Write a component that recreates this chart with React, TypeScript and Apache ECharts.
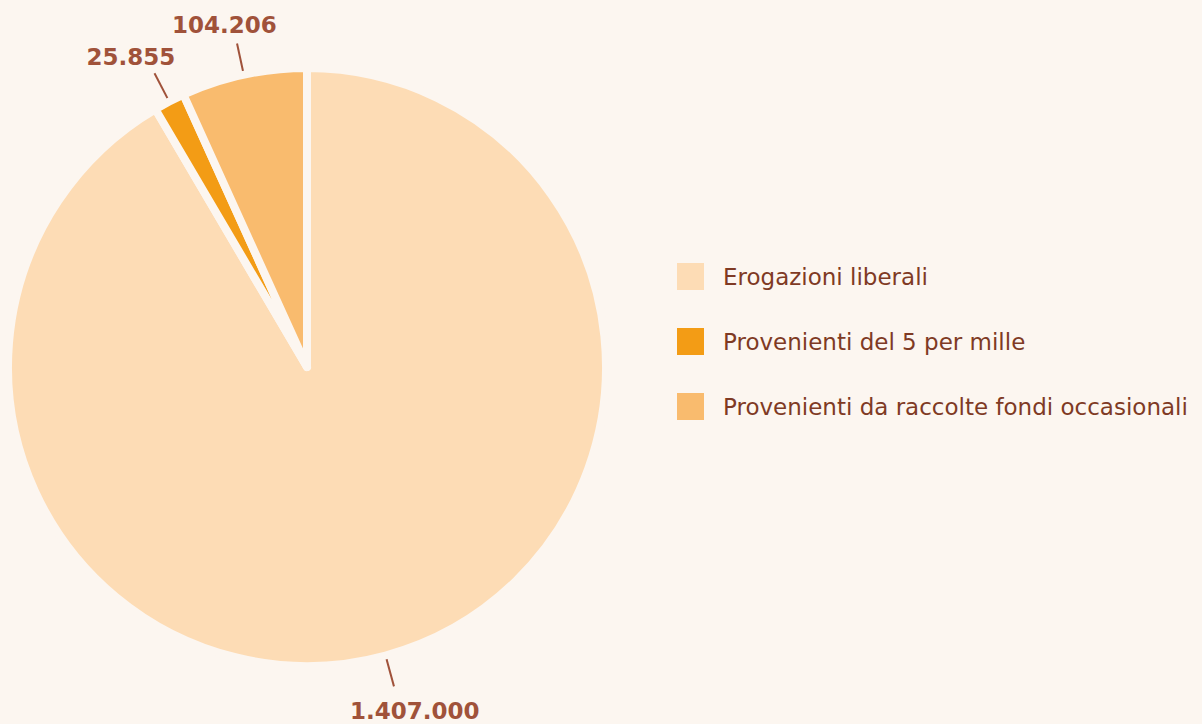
import React, { useEffect, useRef } from "react";
import * as echarts from "echarts";

const categories = [
  "Erogazioni liberali",
  "Provenienti del 5 per mille",
  "Provenienti da raccolte fondi occasionali",
];
const values = [1407000, 25855, 104206];
const colors = ["#FDDCB5", "#F39C15", "#F9BB6E"];

const fmt = (v: number) => v.toString().replace(/\B(?=(\d{3})+(?!\d))/g, ".");

export default function App() {
  const ref = useRef<HTMLDivElement>(null);
  useEffect(() => {
    if (!ref.current) return;
    const chart = echarts.init(ref.current, null, { renderer: "svg" });
    chart.setOption({
      animation: false,
      backgroundColor: "#FCF6F0",
      color: colors,
      legend: {
        orient: "vertical",
        left: 670,
        top: 256,
        itemWidth: 29,
        itemHeight: 29,
        itemGap: 34,
        icon: "rect",
        textStyle: {
          fontFamily: "DejaVu Sans",
          fontSize: 23,
          color: "#7F3A24",
          padding: [0, 0, 0, 13],
        },
        data: categories,
      },
      series: [
        {
          type: "pie",
          center: [307, 367],
          radius: [0, 299],
          startAngle: 90,
          clockwise: true,
          avoidLabelOverlap: false,
          itemStyle: {
            borderColor: "#FCF6F0",
            borderWidth: 8,
            borderJoin: "round",
          },
          label: {
            show: true,
            position: "outside",
            formatter: (p: any) => fmt(p.value),
            fontFamily: "DejaVu Sans",
            fontWeight: "bold",
            fontSize: 23,
            color: "#A0523A",
          },
          labelLine: {
            show: true,
            length: 26,
            length2: 0,
            lineStyle: { color: "#A0523A", width: 2 },
          },
          labelLayout: (params: any) => {
            const pts = params.labelLinePoints;
            if (!pts || pts.length < 2) return {};
            const a = pts[0];
            let dx = pts[1][0] - a[0];
            let dy = pts[1][1] - a[1];
            const len = Math.sqrt(dx * dx + dy * dy) || 1;
            dx /= len;
            dy /= len;
            const L = 32;
            const b = [a[0] + dx * L, a[1] + dy * L];
            const w = params.labelRect.width;
            const h = params.labelRect.height;
            const g = dy > 0 ? 14 : 7;
            return {
              x: b[0] + dx * (w / 2 + g),
              y: b[1] + dy * (h / 2 + g),
              align: "center",
              verticalAlign: "middle",
              labelLinePoints: [
                [a[0], a[1]],
                [b[0], b[1]],
                [b[0], b[1]],
              ],
            };
          },
          data: categories.map((c, i) => ({ name: c, value: values[i] })),
        },
      ],
    });
    return () => chart.dispose();
  }, []);
  return (
    <div
      ref={ref}
      style={{ position: "fixed", left: 0, top: 0, width: 1202, height: 724 }}
    />
  );
}
